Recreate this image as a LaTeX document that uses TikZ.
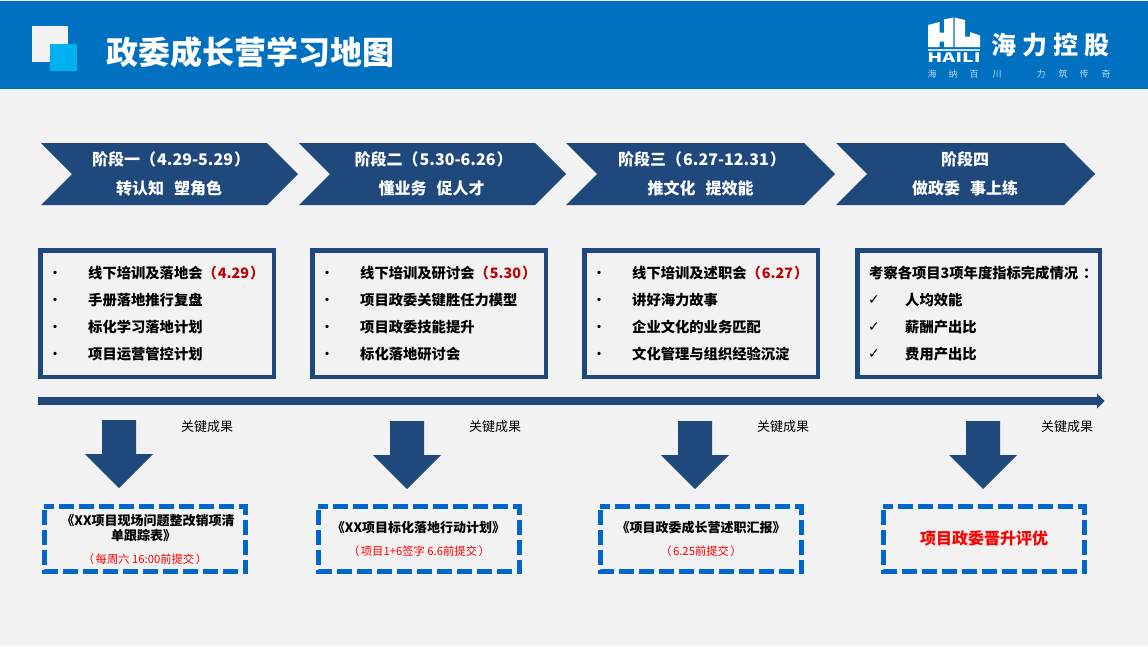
\documentclass[tikz,border=0pt]{standalone}
\usepackage{graphicx}
\usepackage{fontspec}
\setmainfont{Noto Sans CJK SC}
\newfontfamily\checkfont{DejaVu Sans}
\definecolor{hdr}{HTML}{0070C0}
\definecolor{bg}{HTML}{F2F2F2}
\definecolor{navy}{HTML}{1F497D}
\definecolor{cyanbox}{HTML}{00B0F0}
\definecolor{dashblue}{HTML}{0066CC}
\definecolor{darkred}{HTML}{C00000}
\tikzset{
  x=1pt,y=-1pt,
  chev/.style={fill=navy,draw=none},
  chevtext/.style={text=white,font=\fontsize{16}{16}\selectfont\bfseries,inner sep=0pt},
  plan/.style={draw=navy,line width=4.5pt,fill=none},
  item/.style={anchor=west,inner sep=0pt,font=\fontsize{14.3}{14.3}\selectfont\bfseries,text=black},
  bulletmark/.style={inner sep=0pt,font=\fontsize{12}{12}\selectfont\bfseries},
  tick/.style={inner sep=0pt,font=\checkfont\fontsize{14}{14}\selectfont},
  downarrow/.style={fill=navy,draw=none},
  keylabel/.style={inner sep=0pt,font=\fontsize{13}{13}\selectfont},
  result/.style={draw=dashblue,line width=4.6pt,dash pattern=on 15pt off 5pt,dash phase=5pt},
  restitle/.style={inner sep=0pt,font=\fontsize{13}{13}\selectfont\bfseries},
  resnote/.style={inner sep=0pt,text=red,font=\fontsize{11.3}{11.3}\selectfont},
  slogan/.style={inner sep=0pt,text=white!75!hdr,font=\fontsize{9}{9}\selectfont},
}
\newcommand{\chevshape}[2]{\fill[chev] (#1,143) -- (#2-31,143) -- (#2,174) -- (#2-31,205) -- (#1,205) -- (#1+31,174) -- cycle;}
\newcommand{\downshape}[2]{\fill[downarrow] (#1-17,#2) -- (#1+17,#2) -- (#1+17,#2+34) -- (#1+34,#2+34) -- (#1,#2+68) -- (#1-34,#2+34) -- (#1-17,#2+34) -- cycle;}
\newcommand{\resultbox}[1]{\draw[result] (#1,506.3) -- (#1+201.4,506.3) -- (#1+201.4,571.7) -- (#1,571.7) -- cycle;}
\newcommand{\redpar}[1]{\textcolor{darkred}{（\hspace{1pt}#1\hspace{1pt}）}}
\begin{document}
\begin{tikzpicture}
\useasboundingbox (0,0) rectangle (1148,646);
\fill[bg] (0,0) rectangle (1148,646);
\fill[hdr] (0,1) rectangle (1148,89);
% title block
\fill[bg] (32,26) rectangle (68,62);
\fill[cyanbox] (50,44) rectangle (77,71);
\node[inner sep=0pt,anchor=west,text=white,font=\fontsize{32}{32}\selectfont\bfseries] (title) at (106.5,52) {政委成长营学习地图};
% logo
\fill[white] (928,25) -- (939.5,22) -- (939.5,32.7) -- (944,32.7) -- (944,19.5) -- (953.3,17.5) -- (953.3,47) -- (944,47) -- (944,41.7) -- (939.5,41.7) -- (939.5,47) -- (928,47) -- cycle;
\fill[white] (954.5,17.5) -- (965,20) -- (965,36.7) -- (970,36.7) -- (970,32) -- (980,35.5) -- (980,47) -- (954.5,47) -- cycle;
\fill[white!80!hdr] (928,48.5) rectangle (980,50.5);
\node[inner sep=0pt,text=white,font=\fontsize{13}{13}\selectfont\bfseries] (logoen) at (954,58) {\scalebox{1.5}[1]{HAILI}};
\node[inner sep=0pt,anchor=west,text=white,font=\fontsize{25}{25}\selectfont\bfseries] (logocn) at (991,45) {海\hspace{6pt}力\hspace{6pt}控\hspace{6pt}股};
\node[slogan] (s1) at (932,74.5) {海};
\node[slogan] (s2) at (953,74.5) {纳};
\node[slogan] (s3) at (974,74.5) {百};
\node[slogan] (s4) at (997,74.5) {川};
\node[slogan] (s5) at (1041,74.5) {力};
\node[slogan] (s6) at (1063,74.5) {筑};
\node[slogan] (s7) at (1084,74.5) {传};
\node[slogan] (s8) at (1106,74.5) {奇};
% chevrons
\chevshape{41}{298}\chevshape{299}{566}\chevshape{566}{835}\chevshape{836}{1095}
\node[chevtext,anchor=west] (c1a) at (92,159) {阶段一（\hspace{1pt}4.29-5.29\hspace{1pt}）};
\node[chevtext] (c1b) at (169,188) {转认知\hspace{10pt}塑角色};
\node[chevtext,anchor=west] (c2a) at (354.5,159) {阶段二（\hspace{1pt}5.30-6.26\hspace{1pt}）};
\node[chevtext] (c2b) at (431.5,188) {懂业务\hspace{10pt}促人才};
\node[chevtext,anchor=west] (c3a) at (618,159) {阶段三（\hspace{1pt}6.27-12.31\hspace{1pt}）};
\node[chevtext] (c3b) at (700.5,188) {推文化\hspace{10pt}提效能};
\node[chevtext] (c4a) at (965,159) {阶段四};
\node[chevtext] (c4b) at (965,188) {做政委\hspace{10pt}事上练};
% plan boxes
\draw[plan] (40.25,250.25) rectangle (273.75,376.75);
\draw[plan] (312.25,250.25) rectangle (545.75,376.75);
\draw[plan] (584.25,250.25) rectangle (817.75,376.75);
\draw[plan] (857.25,250.25) rectangle (1099.75,376.75);
% box 1
\node[bulletmark] (b11) at (55,274.5) {•};\node[item] (t11) at (88,272.7) {线下培训及落地会\redpar{4.29}};
\node[bulletmark] (b12) at (55,301.5) {•};\node[item] (t12) at (88,299.7) {手册落地推行复盘};
\node[bulletmark] (b13) at (55,328.5) {•};\node[item] (t13) at (88,326.7) {标化学习落地计划};
\node[bulletmark] (b14) at (55,355.5) {•};\node[item] (t14) at (88,353.7) {项目运营管控计划};
% box 2
\node[bulletmark] (b21) at (327,274.5) {•};\node[item] (t21) at (360,272.7) {线下培训及研讨会\redpar{5.30}};
\node[bulletmark] (b22) at (327,301.5) {•};\node[item] (t22) at (360,299.7) {项目政委关键胜任力模型};
\node[bulletmark] (b23) at (327,328.5) {•};\node[item] (t23) at (360,326.7) {项目政委技能提升};
\node[bulletmark] (b24) at (327,355.5) {•};\node[item] (t24) at (360,353.7) {标化落地研讨会};
% box 3
\node[bulletmark] (b31) at (599,274.5) {•};\node[item] (t31) at (632,272.7) {线下培训及述职会\redpar{6.27}};
\node[bulletmark] (b32) at (599,301.5) {•};\node[item] (t32) at (632,299.7) {讲好海力故事};
\node[bulletmark] (b33) at (599,328.5) {•};\node[item] (t33) at (632,326.7) {企业文化的业务匹配};
\node[bulletmark] (b34) at (599,355.5) {•};\node[item] (t34) at (632,353.7) {文化管理与组织经验沉淀};
% box 4
\node[item] (t40) at (869,272.7) {考察各项目3项年度指标完成情况\hspace{5pt}：};
\node[tick] (b41) at (874,300) {✓};\node[item] (t41) at (905,299.7) {人均效能};
\node[tick] (b42) at (874,327) {✓};\node[item] (t42) at (905,326.7) {薪酬产出比};
\node[tick] (b43) at (874,354) {✓};\node[item] (t43) at (905,353.7) {费用产出比};
% timeline
\coordinate (tlstart) at (38,401);
\coordinate (tlend) at (1097,401);
\draw[navy,line width=8pt] (tlstart) -- (tlend);
\fill[navy] (1097,393.5) -- (1104.5,401) -- (1097,408.5) -- cycle;
% down arrows
\downshape{119}{420}\downshape{407}{421}\downshape{695}{421}\downshape{983}{421}
\node[keylabel] (k1) at (207,426.5) {关键成果};
\node[keylabel] (k2) at (495,426.5) {关键成果};
\node[keylabel] (k3) at (783,426.5) {关键成果};
\node[keylabel] (k4) at (1067,426.5) {关键成果};
% results
\resultbox{44.3}\resultbox{318.3}\resultbox{600.3}\resultbox{883.3}
\node[restitle] (r1a) at (148,520.5) {《XX项目现场问题整改销项清};
\node[restitle] (r1b) at (143.5,535.5) {单跟踪表》};
\node[resnote] (n1) at (145,559) {（\hspace{1.5pt}每周六 16:00前提交\hspace{1.5pt}）};
\node[restitle] (r2) at (418.5,527.5) {《XX项目标化落地行动计划》};
\node[resnote] (n2) at (419,551) {（\hspace{1.5pt}项目1+6签字 6.6前提交\hspace{1.5pt}）};
\node[restitle] (r3) at (701,527.5) {《项目政委成长营述职汇报》};
\node[resnote] (n3) at (701,551) {（\hspace{1.5pt}6.25前提交\hspace{1.5pt}）};
\node[inner sep=0pt,text=red,font=\fontsize{16}{16}\selectfont\bfseries] (r4) at (984,538) {项目政委晋升评优};
\end{tikzpicture}
\end{document}
